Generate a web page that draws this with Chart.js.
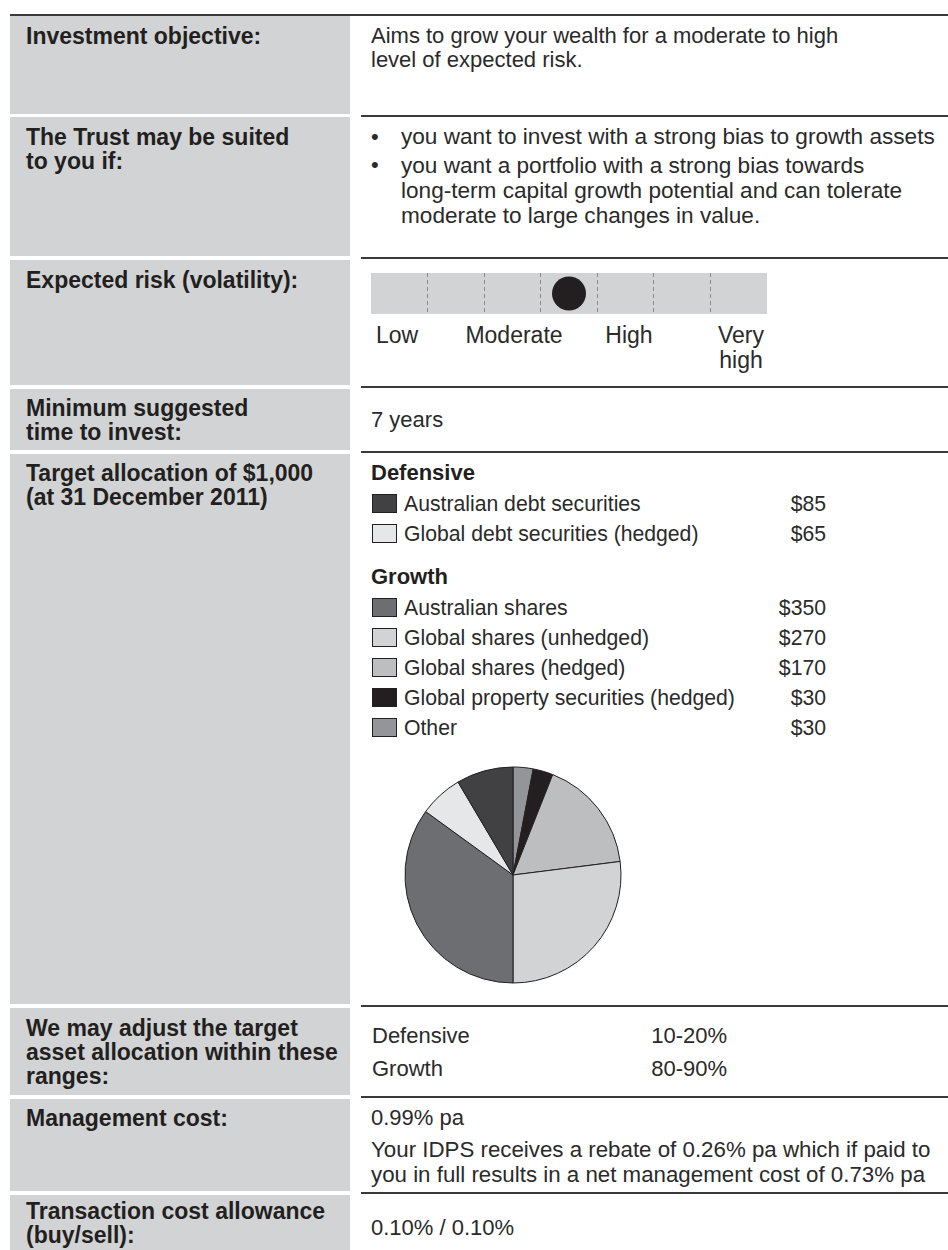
<!DOCTYPE html>
<html><head><meta charset="utf-8">
<script src="https://cdn.jsdelivr.net/npm/chart.js@4/dist/chart.umd.min.js"></script>
<style>
html,body{margin:0;padding:0;background:#fff;}
#page{position:relative;width:948px;height:1250px;overflow:hidden;font-family:"Liberation Sans",Arial,Helvetica,sans-serif;color:#231f20;}
.g{position:absolute;left:10px;width:340px;background:#d1d3d4;}
.ln{position:absolute;left:361px;width:587px;height:2px;background:#3a3a3a;}
.tx{position:absolute;white-space:nowrap;line-height:24px;font-size:22px;color:#2a2a2a;}
.b{font-weight:bold;color:#231f20;}
.sw{position:absolute;left:372px;width:25px;height:19px;box-sizing:border-box;border:1px solid #231f20;}
canvas{position:absolute;}
</style></head>
<body><div id="page">
<canvas id="risk" width="396" height="41" style="left:371px;top:273px;background:#d1d3d4;"></canvas>
<canvas id="pie" width="240" height="240" style="left:393px;top:755px;"></canvas>
</div>
<script>
// ---- data ----
const categories = ["Australian debt securities","Global debt securities (hedged)","Australian shares","Global shares (unhedged)","Global shares (hedged)","Global property securities (hedged)","Other"];
const groups = ["Defensive","Defensive","Growth","Growth","Growth","Growth","Growth"];
const values = [85,65,350,270,170,30,30];
const colors = ["#414042","#e6e7e8","#6d6e71","#d1d3d4","#bcbec0","#231f20","#939598"];
const riskLabels = ["Low","Moderate","High","Very\nhigh"];
const riskSegments = 7;
const riskLevel = 3.5;
const rangeNames = ["Defensive","Growth"];
const rangeValues = ["10-20%","80-90%"];

const page = document.getElementById('page');
function el(cls, css, html){const d=document.createElement('div');d.className=cls;Object.assign(d.style,css);if(html!==undefined)d.innerHTML=html;page.appendChild(d);return d;}
function txt(x, c, lines, opts){
  opts=opts||{}; const lh=opts.lh||24; const fs=opts.fs||22;
  const d=el('tx'+(opts.bold?' b':''),{top:(c-lh/2)+'px',fontSize:fs+'px',lineHeight:lh+'px'},lines.join('<br>'));
  if(opts.right!==undefined){d.style.right=(948-opts.right)+'px';d.style.textAlign='right';}
  else if(opts.center!==undefined){d.style.left=(opts.center-100)+'px';d.style.width='200px';d.style.textAlign='center';}
  else d.style.left=x+'px';
  return d;
}
// ---- layout frame ----
el('',{position:'absolute',left:'10px',width:'938px',top:'14px',height:'2px',background:'#3a3a3a'});
const blocks=[[16,114],[117,256],[260,385],[389,450],[454,1004],[1008,1095],[1099,1191],[1195,1260]];
blocks.forEach(b=>el('g',{top:b[0]+'px',height:(b[1]-b[0])+'px'}));
[115,257,386,451,1005,1096,1192].forEach(y=>el('ln',{top:y+'px'}));

// left labels
const LB={bold:true,fs:23};
txt(26,36,["Investment objective:"],LB);
txt(26,137,["The Trust may be suited","to you if:"],LB);
txt(26,280,["Expected risk (volatility):"],LB);
txt(26,408,["Minimum suggested","time to invest:"],LB);
txt(26,473,["Target allocation of $1,000","(at 31 December 2011)"],LB);
txt(26,1028,["We may adjust the target","asset allocation within these","ranges:"],LB);
txt(26,1118,["Management cost:"],LB);
txt(26,1211,["Transaction cost allowance","(buy/sell):"],LB);

// right texts
txt(371,36,["Aims to grow your wealth for a moderate to high","level of expected risk."]);
txt(371,137,["•"]); txt(401,137,["you want to invest with a strong bias to growth assets"],{fs:22.6});
txt(371,165,["•"]); txt(401,165,["you want a portfolio with a strong bias towards","long-term capital growth potential and can tolerate","moderate to large changes in value."],{lh:25,fs:22.6});
txt(371,420,["7 years"]);
rangeNames.forEach((n,i)=>{const c=1036+i*33; txt(372,c,[n]); txt(0,c,[rangeValues[i]],{right:727});});
txt(371,1118,["0.99% pa"]);
txt(371,1149,["Your IDPS receives a rebate of 0.26% pa which if paid to","you in full results in a net management cost of 0.73% pa"],{lh:25,fs:22.3});
txt(371,1228,["0.10% / 0.10%"]);

// risk labels
const riskCenters=[397,514,629,741];
riskLabels.forEach((l,i)=>txt(0,335,l.split('\n'),{center:riskCenters[i],fs:23,lh:25}));

// legend
let y=473, prev=null;
categories.forEach((c,i)=>{
  if(groups[i]!==prev){ if(prev!==null) y+=43; txt(371,y,[groups[i]],{bold:true}); y+=31; prev=groups[i]; }
  else y+=30;
  el('sw',{top:(y-10)+'px',background:colors[i]});
  txt(404,y,[c],{fs:21.2});
  txt(0,y,['$'+values[i]],{fs:21.2,right:826});
});

// ---- charts ----
new Chart(document.getElementById('risk'),{
  type:'scatter',
  data:{datasets:[{data:[{x:riskLevel,y:0.5}],pointRadius:17,pointHoverRadius:17,pointBackgroundColor:'#231f20',pointBorderWidth:0,clip:false}]},
  options:{responsive:false,animation:false,events:[],layout:{padding:0,autoPadding:false},
    plugins:{legend:{display:false},tooltip:{enabled:false}},
    scales:{
      x:{type:'linear',min:0,max:riskSegments,ticks:{display:false,stepSize:1},
         afterFit:s=>{s.height=0;},
         grid:{drawTicks:false,tickLength:0,lineWidth:1,color:c=>(c.tick&&(c.tick.value===0||c.tick.value===riskSegments))?'rgba(0,0,0,0)':'#8a8a8a'},
         border:{display:false,dash:[4,3]}},
      y:{display:false,min:0,max:1}
    }}
});
new Chart(document.getElementById('pie'),{
  type:'pie',
  data:{labels:categories.slice().reverse(),datasets:[{data:values.slice().reverse(),backgroundColor:colors.slice().reverse(),borderColor:'#231f20',borderWidth:1,hoverOffset:0}]},
  options:{responsive:false,animation:false,events:[],radius:108,layout:{padding:0},
    plugins:{legend:{display:false},tooltip:{enabled:false}}}
});
</script>
</body></html>
